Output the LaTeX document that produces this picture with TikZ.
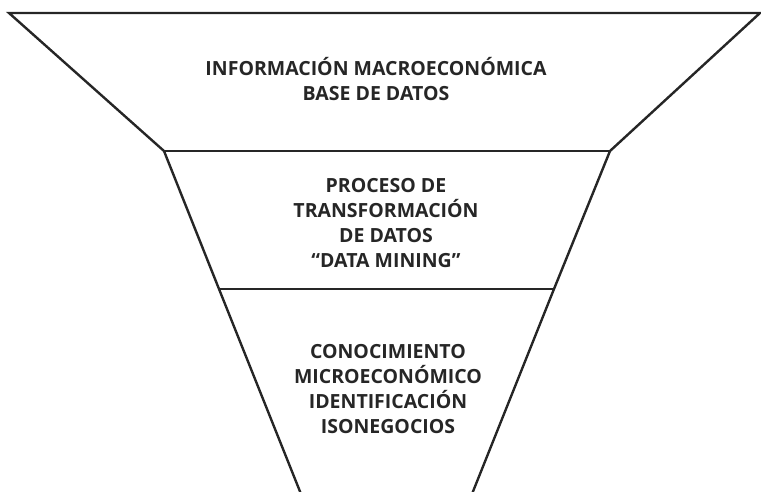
\documentclass[tikz,border=0pt]{standalone}
\usepackage{fontspec}
\setmainfont{Open Sans}
\begin{document}
\begin{tikzpicture}[x=1pt,y=-1pt,
  funnel/.style={line width=2.4pt,black!85,line join=miter},
  label/.style={align=center,anchor=base,inner sep=0pt,
    font=\fontsize{19.5}{25}\selectfont\bfseries,text=black!85}]
\useasboundingbox (0,0) rectangle (761,491);
% corners
\coordinate (tl) at (9,13);
\coordinate (tr) at (760,13);
\coordinate (ml1) at (164,151);
\coordinate (mr1) at (610,151);
\coordinate (ml2) at (219,289);
\coordinate (mr2) at (554,289);
\coordinate (bl) at (301,494);
\coordinate (br) at (472,494);
\draw[funnel] (bl) -- (ml2) -- (ml1) -- (tl) -- (tr) -- (mr1) -- (mr2) -- (br);
\draw[funnel] (ml1) -- (mr1);
\draw[funnel] (ml2) -- (mr2);
% anchor=base of a multi-line node is the baseline of its last line
\node[label] (t1) at (376,100) {INFORMACIÓN MACROECONÓMICA\\BASE DE DATOS};
\node[label] (t2) at (386,267) {PROCESO DE\\TRANSFORMACIÓN\\DE DATOS\\“DATA MINING”};
\node[label] (t3) at (388,433) {CONOCIMIENTO\\MICROECONÓMICO\\IDENTIFICACIÓN\\ISONEGOCIOS};
\end{tikzpicture}
\end{document}
